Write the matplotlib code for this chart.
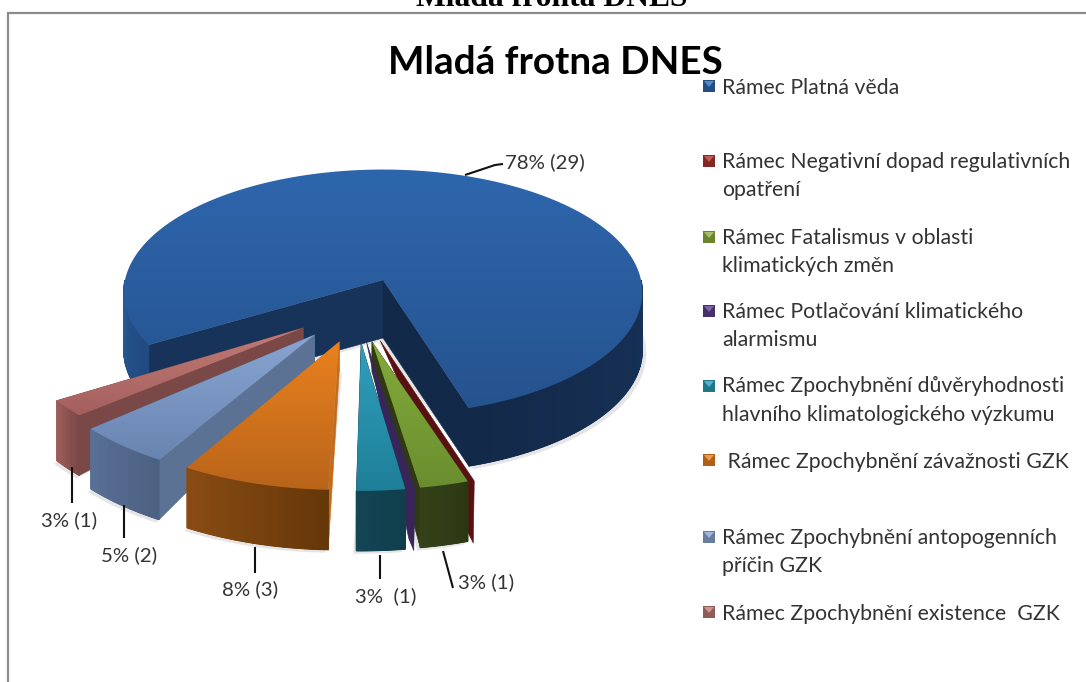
import numpy as np
import matplotlib
matplotlib.use("Agg")
import matplotlib.pyplot as plt
from matplotlib.patches import Polygon, Rectangle
from matplotlib.colors import to_rgb

# ---------- data ----------
categories = [
    "Rámec Platná věda",
    "Rámec Negativní dopad regulativních\nopatření",
    "Rámec Fatalismus v oblasti\nklimatických změn",
    "Rámec Potlačování klimatického\nalarmismu",
    "Rámec Zpochybnění důvěryhodnosti\nhlavního klimatologického výzkumu",
    " Rámec Zpochybnění závažnosti GZK",
    "Rámec Zpochybnění antopogenních\npříčin GZK",
    "Rámec Zpochybnění existence  GZK",
]
counts = [29, 0, 1, 0, 1, 3, 2, 1]
value_labels = ["78% (29)", "", "3% (1)", "", "3%  (1)", "8% (3)", "5% (2)", "3% (1)"]

# ---------- styles ----------
top_light = ["#2e66ad", "#a33", "#84ab3b", "#4a3570", "#309fbc", "#e9811f", "#88a5d1", "#c17b76"]
top_dark = ["#25538e", "#822", "#6a8e2f", "#3a2a5a", "#1f7f99", "#b9641a", "#6a84b0", "#a5605e"]
wall_light = ["#16315a", "#5a1010", "#35421a", "#38265a", "#134656", "#8a4c14", "#5a7095", "#a1605d"]
wall_dark = ["#112848", "#5a1010", "#2c3812", "#38265a", "#103e4c", "#653809", "#4c6082", "#7a4846"]
cut_wall = ["#15305a", "#5a1010", "#2f3a12", "#38265a", "#123f4e", "#c26c1c", "#5b7295", "#7a4846"]
legend_colors = ["#2f6ab0", "#b03330", "#8fb040", "#5f3f8f", "#2a9db8", "#e8801f", "#8aa6d2", "#c07a75"]
text_color = "#333333"
sans = ["Lato", "DejaVu Sans"]

legend_y = [86, 161, 237, 311, 386, 460, 537, 612]
label_pos = [(545, 162), None, (486, 582), None, (386, 596), (250, 589), (129, 555), (69, 520)]
leaders = [[(465, 175), (495, 165), (503, 164)], None, [(443, 551), (453, 588)], None,
           [(380, 555), (380, 579)], [(255, 547), (255, 573)], [(124, 505), (124, 538)], [(72, 467), (72, 503)]]
# perspective correction of each exploded slice: start and end angle (degrees), vertical radius
adj_start = [0, 1.5, 0.7, 1.5, 1.5, 2.7, 3.8, 2.4]
adj_end = [0, 1.5, 0.7, 1.5, 1.5, 3.0, 2.4, 0.3]
ry_scale = [1, 1, 1, 1, 1, 1, 1, 0.93]

fig = plt.figure(figsize=(10.86, 6.82), dpi=100)
ax = fig.add_axes([0, 0, 1, 1])
ax.axis("off")

CX, CY = 383, 280
RX, RY, K, DEPTH = 258, 121.5, 0.10, 58
START = 70.0
MAIN_ADJ_RIGHT, MAIN_ADJ_LEFT = 2.5, 1.7
E_X, E_Y, SH_X, SH_Y = 65, 38, -28, 25
RX2, RY2 = 290, 148


def gradient_poly(pts, c0, c1, z):
    pts = np.asarray(pts)
    patch = Polygon(pts, closed=True, fc="none", ec="none", zorder=z)
    ax.add_patch(patch)
    y0, y1 = pts[:, 1].min(), pts[:, 1].max()
    c0, c1 = np.array(to_rgb(c0)), np.array(to_rgb(c1))
    f = np.linspace(0, 1, 128)[:, None, None]
    img = c0[None, None, :] * (1 - f) + c1[None, None, :] * f
    im = ax.imshow(img, extent=(pts[:, 0].min(), pts[:, 0].max(), y1, y0), aspect="auto", zorder=z)
    im.set_clip_path(patch)


def flat(pts, c, z, alpha=1.0, lw=0.4):
    ax.add_patch(Polygon(pts, closed=True, fc=c, ec=c if alpha == 1 else "none", lw=lw, alpha=alpha, zorder=z))


def blend(a, b, f):
    a, b = np.array(to_rgb(a)), np.array(to_rgb(b))
    return tuple(a * (1 - f) + b * f)


def proj(t):
    t = np.radians(t)
    u, v = np.cos(t), np.sin(t)
    s = 1 / (1 - K * v)
    return np.column_stack([CX + RX * u * s, CY + RY * v * s])


def strips(top, bottom, c0, c1, z):
    n = len(top) - 1
    # solid base so no seams show between the strips
    flat(np.vstack([top, bottom[::-1]]), blend(c0, c1, 0.5), z - 0.01)
    for i in range(n):
        flat([top[i], top[i + 1], bottom[i + 1], bottom[i]], blend(c0, c1, i / max(n - 1, 1)), z, lw=0.8)


# ---------- slice angles ----------
total = sum(counts)
sweep = [c / total * 360 for c in counts]

main_start = START + sum(sweep[1:]) + MAIN_ADJ_LEFT
main_end = START + 360 + MAIN_ADJ_RIGHT
arc = proj(np.linspace(main_start, main_end, 240))
apex = np.array([CX, CY], float)
down = np.array([0, DEPTH])

flat(np.vstack([arc + down + [4, 3], [apex + down + [-5, 4]]]), "#000000", 0.5, alpha=0.10)
flat([apex, arc[0], arc[0] + down, apex + down], "#17335a", 1)
flat([apex, arc[-1], arc[-1] + down, apex + down], "#13294a", 1.1)
left = proj(np.linspace(main_start, 180, 24))
strips(left, left + down, "#204a80", "#285a96", 1.2)
right = proj(np.linspace(main_end, 360, 60))
strips(right, right + down, "#13294a", "#173257", 1.2)
gradient_poly(np.vstack([[apex], arc]), top_light[0], top_dark[0], 2)

# ---------- exploded slices, drawn back to front ----------
bounds = np.cumsum([START] + sweep[1:])
slices = {}
for i in range(1, len(counts)):
    a0, a1 = bounds[i - 1], bounds[i]
    mid = np.radians((a0 + a1) / 2)
    tip = np.array([CX + E_X * np.cos(mid) + SH_X, CY + E_Y * np.sin(mid) + SH_Y])
    slices[i] = (a0 + adj_start[i], a1 + adj_end[i], tip)


def outer(tip, t, i):
    t = np.radians(t)
    return np.column_stack([tip[0] + RX2 * np.cos(t), tip[1] + RY2 * ry_scale[i] * np.sin(t)])


for z, i in enumerate([7, 6, 5, 1, 2, 3, 4]):
    a0, a1, tip = slices[i]
    base = 3 + z
    d_out, d_tip = np.array([0, 60]), np.array([0, 30])
    if counts[i] == 0:
        # a zero-count series only shows as a thin wall
        p = outer(tip, a0, i)[0]
        off = 5 if i == 1 else 4
        t2 = tip + ([3, 0] if i == 1 else [0, 0])
        flat([t2, p + [off, 0], p + d_out + [off - 1, 2], p + d_out + [-2, -10]], wall_light[i], base)
        continue
    arc_i = outer(tip, np.linspace(a0, a1, 40), i)
    flat(np.vstack([arc_i + d_out + [-3, 3], [tip + d_tip + [3, 0]]]), "#000000", base - 0.2, alpha=0.10)
    for p in (arc_i[-1], arc_i[0]):
        flat([tip, p, p + d_out, tip + d_tip], cut_wall[i], base + 0.1)
    strips(arc_i[::-1], arc_i[::-1] + d_out, wall_light[i], wall_dark[i], base + 0.2)
    gradient_poly(np.vstack([[tip], arc_i]), top_light[i], top_dark[i], base + 0.3)

# ---------- value labels ----------
for lab, pos, ld in zip(value_labels, label_pos, leaders):
    if not lab:
        continue
    xy = np.array(ld)
    ax.plot(xy[:, 0], xy[:, 1], color="#111111", lw=1.5, zorder=20, solid_capstyle="butt")
    ax.text(pos[0], pos[1], lab, ha="center", va="center", fontsize=14.7, family=sans, color=text_color, zorder=21)

# ---------- legend ----------
for name, y, c in zip(categories, legend_y, legend_colors):
    ax.add_patch(Rectangle((703, y - 6), 12, 12, fc=blend(c, "#000000", 0.25), ec="none", zorder=20))
    ax.add_patch(Polygon([(704, y - 5), (714, y - 5), (709, y + 1)], closed=True, fc=blend(c, "#ffffff", 0.2), ec="none", zorder=21))
    if "\n" in name:
        ax.text(722, y - 9.5, name, ha="left", va="top", fontsize=15.3, family=sans, color=text_color,
                linespacing=1.55, zorder=21)
    else:
        ax.text(722, y + 1.5, name, ha="left", va="center", fontsize=15.3, family=sans, color=text_color, zorder=21)

# ---------- titles and frame ----------
ax.text(555, 62, "Mladá frotna DNES", ha="center", va="center", fontsize=27.8, family=sans,
        fontweight="bold", color="#000000", zorder=22)
ax.text(552, 6, "Mladá fronta DNES", ha="center", va="baseline", fontsize=22.8,
        family=["Liberation Serif"], fontweight="bold", color="#000000", zorder=22)
ax.plot([8, 8, 1086], [682, 13, 13], color="#8c8c8c", lw=1.6, zorder=25, solid_joinstyle="miter")

ax.set_xlim(0, 1086)
ax.set_ylim(682, 0)
fig.savefig("out.png", dpi=100, facecolor="white")
